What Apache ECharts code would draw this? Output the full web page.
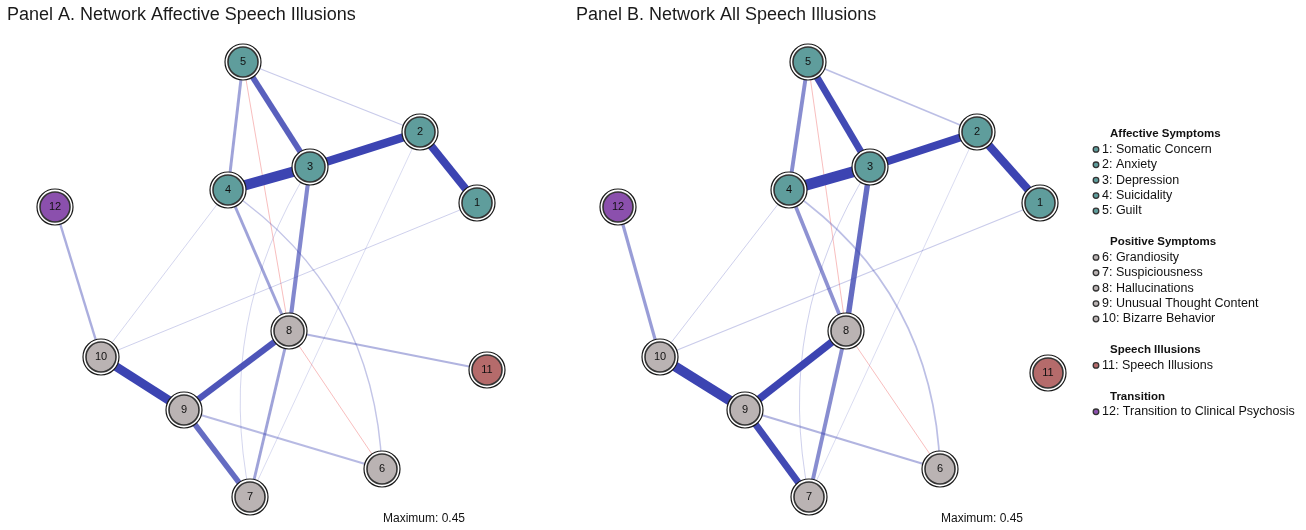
<!DOCTYPE html>
<html>
<head>
<meta charset="utf-8">
<script src="https://cdn.jsdelivr.net/npm/echarts@6/dist/echarts.min.js"></script>
<style>
  html, body { margin: 0; padding: 0; background: #fff; }
  #chart { width: 1306px; height: 530px; }
</style>
</head>
<body>
<div id="chart"></div>
<script>
// node ids and groups (1-5 affective, 6-10 positive, 11 speech illusions, 12 transition)
const nodeIds = ['1', '2', '3', '4', '5', '6', '7', '8', '9', '10', '11', '12']
const nodeGroup = ['aff', 'aff', 'aff', 'aff', 'aff', 'pos', 'pos', 'pos', 'pos', 'pos', 'si', 'tr']

// layout positions (panel-local units)
const layoutA = [[477, 203], [420, 132], [310, 167], [228, 190], [243, 62], [382, 469],
  [250, 497], [289, 331], [184, 410], [101, 357], [487, 370], [55, 207]]
const layoutB = [[480, 203], [417, 132], [310, 167], [229, 190], [248, 62], [380, 469],
  [249, 497], [286, 331], [185, 410], [100, 357], [488, 373], [58, 207]]

// edges: [from, to, partial correlation, curveness]
const edgesA = [
  ['3', '4', 0.42, 0], ['3', '2', 0.34, 0], ['2', '1', 0.32, 0], ['10', '9', 0.36, 0],
  ['9', '8', 0.26, 0], ['5', '3', 0.24, 0], ['9', '7', 0.22, 0], ['3', '8', 0.17, 0],
  ['5', '4', 0.12, 0], ['4', '8', 0.12, 0], ['8', '7', 0.12, 0], ['12', '10', 0.10, 0],
  ['8', '11', 0.09, 0], ['9', '6', 0.08, 0], ['4', '6', 0.06, 0.25], ['5', '2', 0.05, 0],
  ['4', '10', 0.03, 0], ['1', '10', 0.04, 0], ['3', '7', 0.03, -0.2], ['2', '7', 0.02, 0],
  ['5', '8', -0.03, 0], ['8', '6', -0.04, 0]
]
const edgesB = [
  ['3', '4', 0.45, 0], ['3', '2', 0.33, 0], ['2', '1', 0.33, 0], ['10', '9', 0.40, 0],
  ['9', '8', 0.30, 0], ['5', '3', 0.28, 0], ['9', '7', 0.28, 0], ['3', '8', 0.22, 0],
  ['5', '4', 0.16, 0], ['4', '8', 0.15, 0], ['8', '7', 0.16, 0], ['12', '10', 0.13, 0],
  ['9', '6', 0.09, 0], ['4', '6', 0.07, 0.25], ['5', '2', 0.07, 0],
  ['4', '10', 0.04, 0], ['1', '10', 0.05, 0], ['3', '7', 0.04, -0.2], ['2', '7', 0.02, 0],
  ['5', '8', -0.03, 0], ['8', '6', -0.04, 0]
]

const maxWeight = 0.45

// legend text
const legendGroups = [
  {title: 'Affective Symptoms', group: 'aff', items: ['1: Somatic Concern', '2: Anxiety', '3: Depression', '4: Suicidality', '5: Guilt']},
  {title: 'Positive Symptoms', group: 'pos', items: ['6: Grandiosity', '7: Suspiciousness', '8: Hallucinations', '9: Unusual Thought Content', '10: Bizarre Behavior']},
  {title: 'Speech Illusions', group: 'si', items: ['11: Speech Illusions']},
  {title: 'Transition', group: 'tr', items: ['12: Transition to Clinical Psychosis']}
]

const groupColor = {aff: '#5f9d9c', pos: '#bab3b3', si: '#b56b6b', tr: '#8b50ad'}
const font = 'Liberation Sans, Arial, Helvetica, sans-serif'

function buildLinks(edges) {
  // weak edges first so strong ones are drawn on top
  return edges.slice().sort((a, b) => Math.abs(a[2]) - Math.abs(b[2])).map(e => {
    const w = Math.abs(e[2])
    const pos = e[2] > 0
    const alpha = pos ? Math.min(1, 0.13 + w / maxWeight * 1.35) : 0.45
    const rgb = pos ? '60,68,178' : '240,110,110'
    return {
      source: e[0],
      target: e[1],
      lineStyle: {
        width: Math.max(1, w / maxWeight * 11),
        color: 'rgba(' + rgb + ',' + alpha.toFixed(2) + ')',
        curveness: e[3],
        opacity: 1
      }
    }
  })
}

function panelSeries(layout, edges, idx) {
  const outer = {
    type: 'graph',
    coordinateSystem: 'cartesian2d',
    xAxisIndex: idx,
    yAxisIndex: idx,
    symbol: 'circle',
    symbolSize: 36,
    silent: true,
    z: 2,
    itemStyle: {color: '#fff', borderColor: '#1a1a1a', borderWidth: 1.2},
    label: {show: false},
    data: nodeIds.map((id, i) => ({name: id, value: layout[i]})),
    links: buildLinks(edges)
  }
  const inner = {
    type: 'scatter',
    xAxisIndex: idx,
    yAxisIndex: idx,
    symbolSize: 30,
    silent: true,
    z: 3,
    data: nodeIds.map((id, i) => ({
      name: id,
      value: layout[i],
      itemStyle: {color: groupColor[nodeGroup[i]], borderColor: '#333', borderWidth: 1.6, opacity: 1}
    })),
    label: {
      show: true,
      position: 'inside',
      formatter: p => p.name,
      color: '#111',
      fontSize: 11,
      fontFamily: font
    }
  }
  return [outer, inner]
}

function legendGraphics() {
  const els = []
  let y = 134
  legendGroups.forEach(g => {
    els.push({
      type: 'text', x: 1110, y: y,
      style: {text: g.title, font: 'bold 11.5px ' + font, fill: '#111', verticalAlign: 'middle'}
    })
    y += 15.4
    g.items.forEach(t => {
      els.push({
        type: 'circle', shape: {cx: 1096, cy: y, r: 2.8},
        style: {fill: groupColor[g.group], stroke: '#333', lineWidth: 1.3}
      })
      els.push({
        type: 'text', x: 1102, y: y,
        style: {text: t, font: '12.5px ' + font, fill: '#111', verticalAlign: 'middle'}
      })
      y += 15.4
    })
    y += 15.6
  })
  return els
}

const chart = echarts.init(document.getElementById('chart'))
const option = {
  animation: false,
  backgroundColor: '#fff',
  title: [
    {text: 'Panel A. Network Affective Speech Illusions', left: 2, top: 1,
      textStyle: {fontSize: 18, fontWeight: 'normal', color: '#1a1a1a', fontFamily: font}},
    {text: 'Panel B. Network All Speech Illusions', left: 571, top: 1,
      textStyle: {fontSize: 18, fontWeight: 'normal', color: '#1a1a1a', fontFamily: font}},
    {text: 'Maximum: 0.45', left: 378, top: 508,
      textStyle: {fontSize: 12, fontWeight: 'normal', color: '#111', fontFamily: font}},
    {text: 'Maximum: 0.45', left: 936, top: 508,
      textStyle: {fontSize: 12, fontWeight: 'normal', color: '#111', fontFamily: font}}
  ],
  grid: [
    {left: 0, top: 0, width: 560, height: 530},
    {left: 560, top: 0, width: 560, height: 530}
  ],
  xAxis: [
    {type: 'value', gridIndex: 0, min: 0, max: 560, show: false},
    {type: 'value', gridIndex: 1, min: 0, max: 560, show: false}
  ],
  yAxis: [
    {type: 'value', gridIndex: 0, min: 0, max: 530, inverse: true, show: false},
    {type: 'value', gridIndex: 1, min: 0, max: 530, inverse: true, show: false}
  ],
  series: [...panelSeries(layoutA, edgesA, 0), ...panelSeries(layoutB, edgesB, 1)],
  graphic: legendGraphics()
}
chart.setOption(option)
</script>
</body>
</html>
